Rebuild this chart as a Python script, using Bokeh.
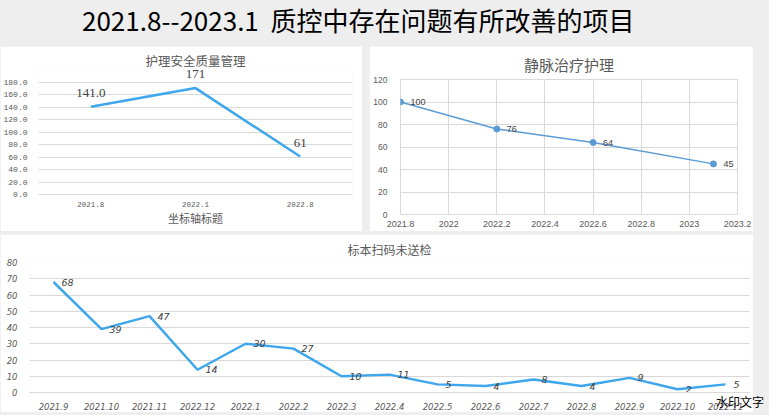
from bokeh.plotting import figure
from bokeh.layouts import column, row
from bokeh.models import (Div, FactorRange, Range1d, FixedTicker, PrintfTickFormatter,
                          CustomJSTickFormatter, ColumnDataSource)
from bokeh.core.properties import value
from bokeh.embed import file_html
from bokeh.resources import INLINE

# ---------------- data ----------------
main_title = "2021.8--2023.1  质控中存在问题有所改善的项目"

p1_title = "护理安全质量管理"
p1_cats = ["2021.8", "2022.1", "2022.8"]
p1_vals = [141.0, 171, 61]
p1_labels = ["141.0", "171", "61"]
p1_xlabel = "坐标轴标题"
p1_yticks = [0, 20, 40, 60, 80, 100, 120, 140, 160, 180]

p2_title = "静脉治疗护理"
p2_x = [2021.8, 2022.2, 2022.6, 2023.1]
p2_vals = [100, 76, 64, 45]
p2_xticks = [2021.8, 2022.0, 2022.2, 2022.4, 2022.6, 2022.8, 2023.0, 2023.2]
p2_yticks = [0, 20, 40, 60, 80, 100, 120]

p3_title = "标本扫码未送检"
p3_cats = ["2021.9", "2021.10", "2021.11", "2022.12", "2022.1", "2022.2", "2022.3",
           "2022.4", "2022.5", "2022.6", "2022.7", "2022.8", "2022.9", "2022.10", "2022.11"]
p3_vals = [68, 39, 47, 14, 30, 27, 10, 11, 5, 4, 8, 4, 9, 2, 5]
p3_yticks = [0, 10, 20, 30, 40, 50, 60, 70, 80]
watermark = "水印文字"

CJK = "Noto Sans CJK SC"
GRAY = "#595959"
GRID = "#d9d9d9"


def style_title(p, text, size, standoff):
    p.title.text = text
    p.title.align = "center"
    p.title.text_font = CJK
    p.title.text_font_size = size
    p.title.text_font_style = "normal"
    p.title.text_color = GRAY
    p.title.standoff = standoff


# ---------------- title ----------------
title_div = Div(
    text=main_title.replace("  ", "&nbsp;&nbsp;"),
    width=753, height=33,
    styles={"font-family": CJK, "font-size": "26px", "color": "#000000",
            "padding-left": "77px", "line-height": "30px", "white-space": "nowrap"},
)

# ---------------- chart 1 ----------------
p1 = figure(width=362, height=185, x_range=FactorRange(*p1_cats, range_padding=0),
            y_range=Range1d(0, 202.5), output_backend="svg", toolbar_location=None,
            min_border_left=37, min_border_right=10, min_border_top=22, min_border_bottom=37)
style_title(p1, p1_title, "12.5px", -3)
p1.outline_line_color = None
p1.background_fill_color = "white"
p1.border_fill_color = "white"
p1.xgrid.grid_line_color = None
p1.ygrid.grid_line_color = GRID
p1.yaxis.ticker = FixedTicker(ticks=p1_yticks)
p1.yaxis.formatter = PrintfTickFormatter(format="%.1f")
p1.yaxis.axis_line_color = None
p1.yaxis.major_tick_line_color = None
p1.yaxis.minor_tick_line_color = None
p1.yaxis.major_label_text_font = "Liberation Mono"
p1.yaxis.major_label_text_font_size = "8px"
p1.yaxis.major_label_text_color = GRAY
p1.yaxis.major_label_standoff = 5
p1.xaxis.axis_line_color = GRID
p1.xaxis.major_tick_line_color = None
p1.xaxis.major_label_text_font = "Liberation Mono"
p1.xaxis.major_label_text_font_size = "7.5px"
p1.xaxis.major_label_text_color = GRAY
p1.xaxis.major_label_standoff = 1
p1.xaxis.axis_label = p1_xlabel
p1.xaxis.axis_label_text_font = CJK
p1.xaxis.axis_label_text_font_size = "11px"
p1.xaxis.axis_label_text_font_style = "normal"
p1.xaxis.axis_label_text_color = GRAY
p1.xaxis.axis_label_standoff = 0
src1 = ColumnDataSource(dict(x=p1_cats, y=p1_vals, t=p1_labels))
p1.line("x", "y", source=src1, line_color="#3EA6EC", line_width=2.5)
p1.text("x", "y", text="t", source=src1, y_offset=-10, text_align="center",
        text_baseline="bottom", text_font=value("Liberation Serif"),
        text_font_size="13px", text_color="#404040")

# ---------------- chart 2 ----------------
p2 = figure(width=384, height=185, x_range=Range1d(2021.8, 2023.2), y_range=Range1d(0, 120),
            output_backend="svg", toolbar_location=None,
            min_border_left=31, min_border_right=16, min_border_top=20, min_border_bottom=17)
style_title(p2, p2_title, "15px", 10)
p2.outline_line_color = GRID
p2.background_fill_color = "white"
p2.border_fill_color = "white"
p2.xgrid.grid_line_color = GRID
p2.ygrid.grid_line_color = GRID
p2.xaxis.ticker = FixedTicker(ticks=p2_xticks)
p2.yaxis.ticker = FixedTicker(ticks=p2_yticks)
p2.xaxis.formatter = CustomJSTickFormatter(code="return String(Number(tick.toFixed(1)));")
for ax in (p2.xaxis, p2.yaxis):
    ax.axis_line_color = None
    ax.major_tick_line_color = None
    ax.minor_tick_line_color = None
    ax.major_label_text_font = "Liberation Sans"
    ax.major_label_text_color = GRAY
p2.xaxis.major_label_text_font_size = "9px"
p2.yaxis.major_label_text_font_size = "8.5px"
p2.xaxis.major_label_standoff = 0
p2.yaxis.major_label_standoff = 7
src2 = ColumnDataSource(dict(x=p2_x, y=p2_vals, t=[str(v) for v in p2_vals]))
p2.line("x", "y", source=src2, line_color="#5B9BD5", line_width=1.5)
p2.scatter("x", "y", source=src2, size=6, fill_color="#5B9BD5", line_color="#5B9BD5")
p2.text("x", "y", text="t", source=src2, x_offset=10, text_align="left",
        text_baseline="middle", text_font=value("Liberation Sans"),
        text_font_size="9px", text_color="#404040")

# ---------------- chart 3 ----------------
p3 = figure(width=753, height=178, x_range=FactorRange(*p3_cats, range_padding=0),
            y_range=Range1d(0, 80), output_backend="svg", toolbar_location=None,
            min_border_left=29, min_border_right=4, min_border_top=20, min_border_bottom=17)
style_title(p3, p3_title, "12px", 9)
p3.outline_line_color = None
p3.background_fill_color = "white"
p3.border_fill_color = "white"
p3.xgrid.grid_line_color = None
p3.ygrid.grid_line_color = GRID
p3.yaxis.ticker = FixedTicker(ticks=p3_yticks)
for ax in (p3.xaxis, p3.yaxis):
    ax.major_tick_line_color = None
    ax.minor_tick_line_color = None
    ax.major_label_text_font = "DejaVu Sans"
    ax.major_label_text_font_style = "italic"
    ax.major_label_text_color = GRAY
    ax.major_label_text_font_size = "8.5px"
p3.yaxis.axis_line_color = None
p3.xaxis.axis_line_color = GRID
p3.xaxis.major_label_standoff = 4
p3.yaxis.major_label_standoff = 6
src3 = ColumnDataSource(dict(x=p3_cats, y=p3_vals, t=[str(v) for v in p3_vals]))
p3.line("x", "y", source=src3, line_color="#3EA6EC", line_width=2.5)
p3.text("x", "y", text="t", source=src3, x_offset=8, text_align="left",
        text_baseline="middle", text_font=value("DejaVu Sans"), text_font_style="italic",
        text_font_size="9.5px", text_color="#404040")

wm_div = Div(text=watermark, width=50, height=16,
             styles={"font-family": CJK, "font-size": "12px", "color": "#000000",
                     "margin-top": "-21px", "margin-left": "716px", "line-height": "16px",
                     "white-space": "nowrap", "z-index": "5"})

layout = column(title_div, row(column(p1), column(p2), spacing=7), p3, wm_div, spacing=3,
                styles={"background-color": "#eeeeee"})

open("out.html", "w").write(file_html(layout, INLINE))
